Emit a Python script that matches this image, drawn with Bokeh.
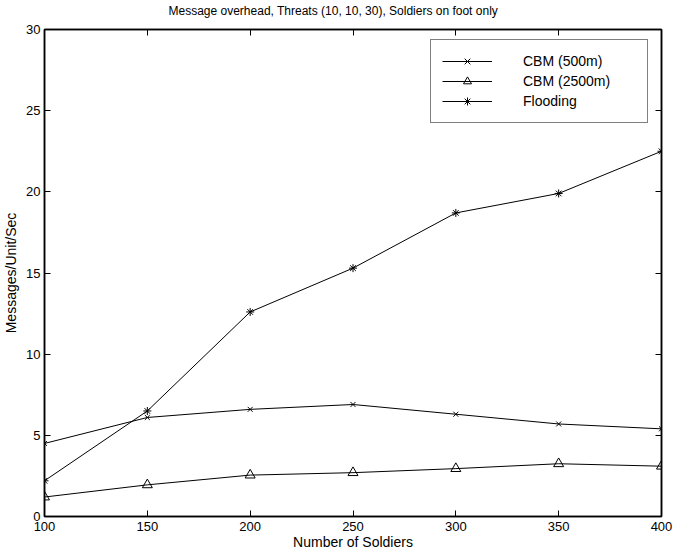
from bokeh.plotting import figure
from bokeh.models import Range1d, LinearAxis, FixedTicker, Legend, LegendItem, CustomLabelingPolicy
from bokeh.embed import file_html
from bokeh.resources import INLINE

soldiers = [100, 150, 200, 250, 300, 350, 400]
cbm_500 = [4.5, 6.1, 6.6, 6.9, 6.3, 5.7, 5.4]
cbm_2500 = [1.2, 1.95, 2.55, 2.7, 2.95, 3.25, 3.1]
flooding = [2.2, 6.5, 12.6, 15.3, 18.7, 19.9, 22.5]
x_ticks = [100, 150, 200, 250, 300, 350, 400]
y_ticks = [0, 5, 10, 15, 20, 25, 30]

FONT = "Liberation Sans"

p = figure(frame_width=617, frame_height=487, x_range=Range1d(100, 400), y_range=Range1d(0, 30),
           output_backend="svg", toolbar_location=None,
           min_border_left=39, min_border_right=5, min_border_top=21, min_border_bottom=28,
           x_axis_label="Number of Soldiers", y_axis_label="Messages/Unit/Sec")

p.title.text = "Message overhead, Threats (10, 10, 30), Soldiers on foot only"
p.title.align = "left"
p.title.offset = 124
p.title.standoff = 2
p.title.text_font = FONT
p.title.text_font_size = "12px"
p.title.text_font_style = "normal"
p.title.text_color = "black"

p.grid.visible = False
p.outline_line_color = "black"
p.outline_line_width = 1.5

for ax in (p.xaxis[0], p.yaxis[0]):
    ax.axis_line_color = "black"
    ax.axis_line_width = 1.5
    ax.major_tick_in = 6
    ax.major_tick_out = 0
    ax.minor_tick_in = 0
    ax.minor_tick_out = 0
    ax.major_tick_line_color = "black"
    ax.major_label_text_font = FONT
    ax.major_label_text_font_size = "13px"
    ax.major_label_text_color = "black"
    ax.axis_label_text_font = FONT
    ax.axis_label_text_font_size = "14px"
    ax.axis_label_text_font_style = "normal"
    ax.axis_label_text_color = "black"

p.xaxis[0].ticker = FixedTicker(ticks=x_ticks)
p.yaxis[0].ticker = FixedTicker(ticks=y_ticks)
p.xaxis[0].major_label_standoff = 5
p.xaxis[0].axis_label_standoff = 0
p.yaxis[0].major_label_standoff = 4
p.yaxis[0].axis_label_standoff = 4

top = LinearAxis(ticker=FixedTicker(ticks=x_ticks),
                 major_label_policy=CustomLabelingPolicy(code="return []"),
                 major_tick_in=6, major_tick_out=0, minor_tick_in=0, minor_tick_out=0,
                 axis_line_color="black", axis_line_width=1.5, major_label_standoff=0)
right = LinearAxis(ticker=FixedTicker(ticks=y_ticks),
                   major_label_policy=CustomLabelingPolicy(code="return []"),
                   major_tick_in=6, major_tick_out=0, minor_tick_in=0, minor_tick_out=0,
                   axis_line_color="black", axis_line_width=1.5, major_label_standoff=0)
p.add_layout(top, "above")
p.add_layout(right, "right")

l1 = p.line(soldiers, cbm_500, line_color="black", line_width=1)
m1 = p.scatter(soldiers, cbm_500, marker="x", size=7, line_color="black", line_width=1)
l2 = p.line(soldiers, cbm_2500, line_color="black", line_width=1)
m2 = p.scatter(soldiers, cbm_2500, marker="triangle", size=10, line_color="black",
               fill_color=None, line_width=1)
l3 = p.line(soldiers, flooding, line_color="black", line_width=1)
m3 = p.scatter(soldiers, flooding, marker="asterisk", size=8, line_color="black", line_width=1)

legend = Legend(items=[
    LegendItem(label="CBM (500m)", renderers=[l1, m1]),
    LegendItem(label="CBM (2500m)", renderers=[l2, m2]),
    LegendItem(label="Flooding", renderers=[l3, m3]),
], location=(386, 393))
legend.glyph_width = 50
legend.glyph_height = 20
legend.label_height = 20
legend.label_width = 113
legend.label_standoff = 31
legend.spacing = 0
legend.padding = 11
legend.margin = 0
legend.label_text_font = FONT
legend.label_text_font_size = "14px"
legend.label_text_color = "black"
legend.border_line_color = "black"
legend.border_line_width = 1.5
legend.background_fill_color = "white"
legend.background_fill_alpha = 1
p.add_layout(legend)

open("out.html", "w").write(file_html(p, INLINE))
